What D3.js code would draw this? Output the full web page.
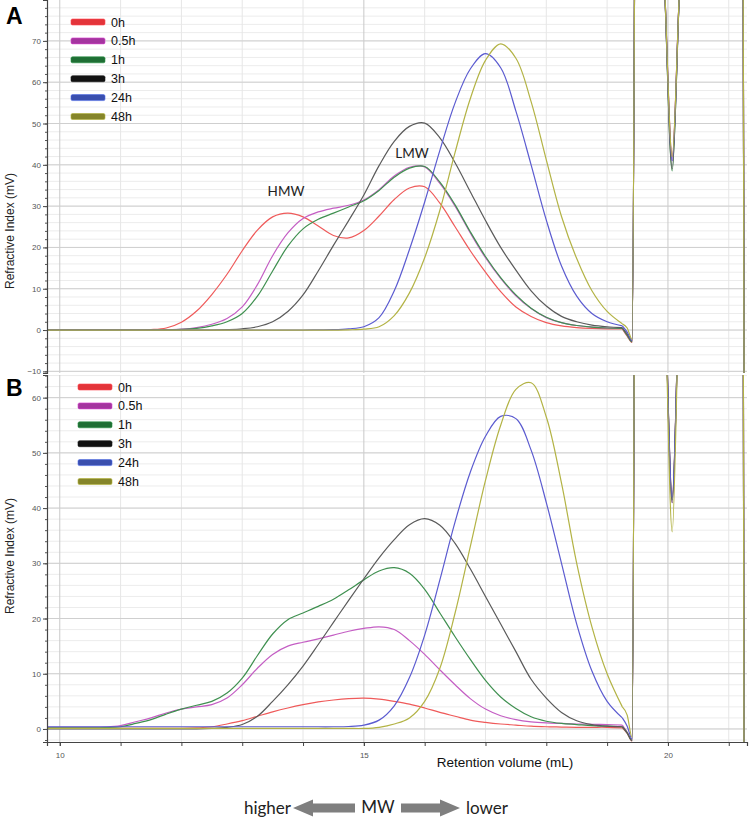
<!DOCTYPE html>
<html>
<head>
<meta charset="utf-8">
<script src="https://cdn.jsdelivr.net/npm/d3@7"></script>
<style>
  body { margin: 0; background: #fff; }
  svg { display: block; font-family: "Liberation Sans", Arial, sans-serif; }
</style>
</head>
<body>
<script>
// retention volume (mL) shared by every trace
var volumes = [9.75, 10, 10.25, 10.5, 10.75, 11, 11.25, 11.5, 11.75, 12, 12.25, 12.5, 12.75, 13, 13.25, 13.5, 13.75, 14, 14.25, 14.5, 14.75, 15, 15.25, 15.5, 15.75, 16, 16.25, 16.5, 16.75, 17, 17.25, 17.5, 17.75, 18, 18.25, 18.5, 18.75, 19, 19.25, 19.33, 19.41, 19.5, 19.94, 20.07, 20.2, 21.22, 21.28];
// solvent peaks start here
var systemPeakStart = 19.25;

var seriesNames = ["0h", "0.5h", "1h", "3h", "24h", "48h"];
var lineColors = ["#ef5a5a", "#c45ec4", "#3f9050", "#5a5a5a", "#5b5bd0", "#b3b345"];
var legendColors = ["#e3343a", "#a4359f", "#1f6e34", "#111111", "#3a4fae", "#85852a"];

// panel A (mV)
var a0h  = [0, 0, 0, 0, 0, 0, 0, 0.1, 0.5, 1.9, 4.6, 8.6, 13.5, 19.2, 24.2, 27.4, 28.3, 27.4, 25.2, 22.9, 22.3, 24.1, 27.6, 31.6, 34.4, 34.7, 30.7, 25, 19.2, 14, 9.3, 5.6, 3.3, 1.8, 1.0, 0.6, 0.4, 0.3, 0.3, -1.5, -3, 200, 85, 42, 85, 200, -200];
var a05h = [0, 0, 0, 0, 0, 0, 0, 0, 0.05, 0.2, 0.6, 1.4, 2.8, 5.6, 11, 18, 23.5, 27, 28.6, 29.5, 30.2, 31.5, 34, 37.3, 39.4, 39.5, 35.5, 30, 23.5, 17.5, 12.5, 8.3, 5.2, 3.0, 1.8, 1.1, 0.7, 0.5, 0.4, -1.2, -2.8, 200, 85, 41, 85, 200, -200];
var a1h  = [0, 0, 0, 0, 0, 0, 0, 0, 0.05, 0.15, 0.4, 1.0, 2.0, 4.0, 8.2, 14.3, 20.3, 24.5, 26.8, 28.3, 29.8, 31.3, 33.8, 37, 39.2, 39.6, 35.8, 30.3, 23.8, 17.8, 12.7, 8.5, 5.3, 3.1, 1.8, 1.1, 0.7, 0.5, 0.4, -1.3, -2.9, 200, 85, 38.5, 85, 200, -200];
var a3h  = [0, 0, 0, 0, 0, 0, 0, 0, 0, 0, 0, 0, 0.1, 0.3, 0.8, 2.0, 4.5, 8.5, 14.3, 20.5, 26.5, 32.7, 39.8, 45.7, 49.3, 50.1, 46.5, 40.5, 33.5, 26.5, 20, 14.5, 9.5, 5.8, 3.3, 2.0, 1.2, 0.8, 0.6, -1.0, -2.7, 200, 85, 39, 85, 200, -200];
var a24h = [0, 0, 0, 0, 0, 0, 0, 0, 0, 0, 0, 0, 0, 0, 0, 0, 0, 0, 0.05, 0.1, 0.3, 0.8, 3.0, 9.5, 19.5, 31, 43.5, 55, 63.2, 66.9, 63.5, 53, 40, 26.6, 15.5, 8.2, 4.0, 2.0, 1.0, -0.5, -2.5, 200, 85, 41, 85, 200, -200];
var a48h = [0, 0, 0, 0, 0, 0, 0, 0, 0, 0, 0, 0, 0, 0, 0, 0, 0, 0, 0, 0, 0.05, 0.2, 0.8, 3.5, 9, 17.5, 29, 43, 56, 65.3, 69.3, 65.8, 55.3, 41.2, 27.5, 17.3, 9.5, 4.5, 1.5, 0.5, -2.2, 200, 85, 42, 85, 200, -200];

// panel B (mV)
var b0h  = [0.1, 0.1, 0.1, 0.1, 0.1, 0.1, 0.1, 0.1, 0.1, 0.1, 0.2, 0.4, 0.9, 1.5, 2.3, 3.1, 3.8, 4.4, 4.9, 5.25, 5.5, 5.6, 5.4, 5.0, 4.5, 3.8, 3.0, 2.3, 1.6, 1.2, 0.9, 0.7, 0.5, 0.4, 0.35, 0.3, 0.3, 0.3, 0.2, -0.8, -2.2, 200, 85, 42, 85, 200, -200];
var b05h = [0.3, 0.3, 0.3, 0.3, 0.35, 0.6, 1.3, 2.0, 2.9, 3.6, 4.0, 4.4, 5.6, 8.0, 11.0, 13.5, 15.0, 15.7, 16.3, 17.0, 17.7, 18.2, 18.5, 18.0, 16.0, 13.5, 10.7, 8.0, 5.5, 3.6, 2.4, 1.7, 1.3, 1.1, 1.0, 0.9, 0.85, 0.8, 0.7, -0.6, -2.0, 200, 85, 41, 85, 200, -200];
var b1h  = [0.2, 0.2, 0.2, 0.2, 0.25, 0.4, 1.0, 1.7, 2.7, 3.6, 4.3, 5.0, 6.5, 9.2, 13.3, 17.2, 19.8, 21, 22.2, 23.5, 25.2, 27.0, 28.6, 29.2, 28.2, 25.3, 21, 16.7, 12.6, 8.8, 5.8, 3.7, 2.2, 1.4, 1.0, 0.8, 0.6, 0.5, 0.4, -0.7, -2.1, 200, 85, 41.5, 85, 200, -200];
var b3h  = [0, 0, 0, 0, 0, 0, 0, 0, 0, 0, 0, 0.1, 0.3, 0.8, 2.3, 5.0, 8.0, 11.4, 15.3, 19.3, 23.3, 27.2, 31.0, 34.3, 37.0, 38.1, 36.9, 33.6, 29, 24, 19, 14, 9.0, 5.6, 3.0, 1.5, 0.8, 0.5, 0.4, -0.7, -2.1, 200, 85, 41, 85, 200, -200];
var b24h = [0.4, 0.4, 0.4, 0.4, 0.4, 0.4, 0.4, 0.4, 0.4, 0.4, 0.4, 0.4, 0.4, 0.4, 0.4, 0.4, 0.4, 0.4, 0.4, 0.4, 0.45, 0.7, 1.6, 4.2, 9.3, 17, 27, 37.5, 46.5, 53, 56.6, 56.2, 50.5, 41, 30, 19, 10.5, 5.0, 2.0, 0.5, -1.8, 200, 85, 42, 85, 200, -200];
var b48h = [0.1, 0.1, 0.1, 0.1, 0.1, 0.1, 0.1, 0.1, 0.1, 0.1, 0.1, 0.1, 0.1, 0.1, 0.1, 0.1, 0.1, 0.1, 0.1, 0.1, 0.1, 0.1, 0.3, 0.9, 2.0, 5.0, 11, 21, 33, 45, 55, 61.5, 62.7, 56.5, 44.5, 30, 18.5, 10, 4.0, 2.5, -1.5, 200, 85, 35.7, 85, 200, -200];

var ticksA = [-10, 0, 10, 20, 30, 40, 50, 60, 70];
var ticksB = [0, 10, 20, 30, 40, 50, 60];
var xTicks = [10, 15, 20];
var xMinorTicks = [10, 11, 12, 13, 14, 15, 16, 17, 18, 19, 20, 21];

var width = 750, height = 821;
var svg = d3.select("body").append("svg")
  .attr("width", width)
  .attr("height", height);

var x = d3.scaleLinear().domain([9.79, 21.3]).range([47, 747]);
var split = volumes.indexOf(systemPeakStart);

function drawPanel(p) {
  var y = d3.scaleLinear().domain([p.yMin, p.yMax]).range([p.bottom, p.top]);
  var g = svg.append("g");

  svg.append("clipPath").attr("id", p.id + "-clip")
    .append("rect")
    .attr("x", x.range()[0]).attr("y", p.top)
    .attr("width", x.range()[1] - x.range()[0])
    .attr("height", p.bottom - p.top);

  // minor grid every 2 mV, major every 10
  var minor = d3.range(Math.ceil(p.yMin / 2) * 2, p.yMax, 2);
  g.selectAll(".hmin").data(minor).enter().append("line")
    .attr("x1", x.range()[0]).attr("x2", x.range()[1])
    .attr("y1", function(d) { return y(d); }).attr("y2", function(d) { return y(d); })
    .attr("stroke", "#ececec").attr("stroke-width", 1);
  g.selectAll(".vmin").data(xMinorTicks).enter().append("line")
    .attr("y1", p.top).attr("y2", p.bottom)
    .attr("x1", function(d) { return x(d); }).attr("x2", function(d) { return x(d); })
    .attr("stroke", function(d) { return xTicks.indexOf(d) >= 0 ? "#c9c9c9" : "#e6e6e6"; })
    .attr("stroke-width", 1);
  g.selectAll(".hmaj").data(p.ticks).enter().append("line")
    .attr("x1", x.range()[0]).attr("x2", x.range()[1])
    .attr("y1", function(d) { return y(d); }).attr("y2", function(d) { return y(d); })
    .attr("stroke", "#cfcfcf").attr("stroke-width", 1);

  // traces: smooth polymer peaks, sharp system peaks
  var smooth = d3.line()
    .x(function(d) { return x(volumes[d[0]]); })
    .y(function(d) { return y(d[1]); })
    .curve(d3.curveCatmullRom.alpha(0.5));
  var sharp = d3.line()
    .x(function(d) { return x(volumes[d[0]]); })
    .y(function(d) { return y(d[1]); })
    .curve(d3.curveMonotoneX);
  var traces = g.append("g").attr("clip-path", "url(#" + p.id + "-clip)");
  p.series.forEach(function(s, k) {
    var pts = s.map(function(v, i) { return [i, v]; });
    [smooth(pts.slice(0, split + 1)), sharp(pts.slice(split))].forEach(function(dPath) {
      traces.append("path")
        .attr("d", dPath)
        .attr("fill", "none")
        .attr("stroke", lineColors[k])
        .attr("stroke-width", 1.2);
    });
  });

  // y axis
  var yAxis = g.append("g").attr("transform", "translate(" + x.range()[0] + ",0)")
    .call(d3.axisLeft(y).tickValues(p.ticks).tickSize(4).tickFormat(d3.format("d")));
  yAxis.selectAll("text").attr("font-size", 8).attr("fill", "#555").attr("x", -6);
  yAxis.selectAll("line").attr("stroke", "#444");
  yAxis.select(".domain").attr("stroke", "#444").attr("stroke-width", 1.2);
  var yMinor = g.append("g").attr("transform", "translate(" + x.range()[0] + ",0)")
    .call(d3.axisLeft(y).tickValues(minor).tickSize(2).tickFormat(""));
  yMinor.select(".domain").remove();
  yMinor.selectAll("line").attr("stroke", "#555");

  g.append("text")
    .attr("transform", "translate(" + 14 + "," + p.labelY + ") rotate(-90)")
    .attr("text-anchor", "middle")
    .attr("font-size", 12)
    .attr("fill", "#222")
    .text("Refractive Index (mV)");

  g.append("text")
    .attr("x", 6).attr("y", p.letterY)
    .attr("font-size", 23).attr("font-weight", "bold")
    .text(p.id);

  // legend
  var rows = g.append("g").selectAll("g").data(seriesNames).enter().append("g")
    .attr("transform", function(d, i) { return "translate(" + p.legX + "," + (p.legY + i * 18.9) + ")"; });
  rows.append("rect")
    .attr("x", 0).attr("y", -3).attr("width", 34).attr("height", 6).attr("rx", 1.5)
    .attr("fill", function(d, i) { return legendColors[i]; })
    .attr("stroke", function(d, i) { return d3.color(legendColors[i]).brighter(0.8); })
    .attr("stroke-width", 0.6);
  rows.append("text")
    .attr("x", 40).attr("y", 0).attr("dy", "0.36em")
    .attr("font-size", 12.5).attr("fill", "#111")
    .text(function(d) { return d; });

  return y;
}

drawPanel({
  id: "A", top: 0, bottom: 373, yMin: -10.4, yMax: 79.9, ticks: ticksA,
  series: [a0h, a05h, a1h, a3h, a24h, a48h],
  labelY: 231, letterY: 24, legX: 71, legY: 22
});
drawPanel({
  id: "B", top: 375, bottom: 742, yMin: -2.36, yMax: 64.1, ticks: ticksB,
  series: [b0h, b05h, b1h, b3h, b24h, b48h],
  labelY: 556, letterY: 396, legX: 78, legY: 387
});

// peak annotations
svg.append("text").attr("x", 286).attr("y", 196).attr("text-anchor", "middle")
  .attr("font-family", "Lato, 'Open Sans', sans-serif").attr("font-size", 13.5).attr("fill", "#222").text("HMW");
svg.append("text").attr("x", 412).attr("y", 158).attr("text-anchor", "middle")
  .attr("font-family", "Lato, 'Open Sans', sans-serif").attr("font-size", 13.5).attr("fill", "#222").text("LMW");

// x axis under panel B
var xAxis = svg.append("g").attr("transform", "translate(0,742)")
  .call(d3.axisBottom(x).tickValues(xTicks).tickSize(4).tickFormat(d3.format("d")));
xAxis.selectAll("text").attr("font-size", 8).attr("fill", "#555").attr("y", 10);
xAxis.selectAll("line").attr("stroke", "#444");
xAxis.select(".domain").attr("stroke", "#444").attr("stroke-width", 1.2);
var xMinor = svg.append("g").attr("transform", "translate(0,742)")
  .call(d3.axisBottom(x).tickValues(xMinorTicks).tickSize(4).tickFormat(""));
xMinor.select(".domain").remove();
xMinor.selectAll("line").attr("stroke", "#444");

svg.append("text").attr("x", 505).attr("y", 767).attr("text-anchor", "middle")
  .attr("font-family", "'Liberation Sans Narrow', 'Liberation Sans', Arial, sans-serif")
  .attr("font-size", 13.5).attr("fill", "#111")
  .text("Retention volume (mL)");

// MW direction arrows
var arrowY = 808;
function blockArrow(x0, x1, dir) {
  var head = 20, bh = 4.5, hh = 8.5;
  var tip = dir < 0 ? x0 : x1, base = dir < 0 ? x0 + head : x1 - head, tail = dir < 0 ? x1 : x0;
  var pts = [[tail, arrowY - bh], [base, arrowY - bh], [base, arrowY - hh], [tip, arrowY],
             [base, arrowY + hh], [base, arrowY + bh], [tail, arrowY + bh]];
  svg.append("path").attr("d", d3.line()(pts) + "Z").attr("fill", "#7f7f7f");
}
blockArrow(293, 355, -1);
blockArrow(401, 460, 1);
var mwFont = "Lato, 'Open Sans', sans-serif";
svg.append("text").attr("x", 291).attr("y", 814).attr("text-anchor", "end")
  .attr("font-family", mwFont).attr("font-size", 17).attr("fill", "#222").text("higher");
svg.append("text").attr("x", 378).attr("y", 813).attr("text-anchor", "middle")
  .attr("font-family", mwFont).attr("font-size", 17).attr("fill", "#222").text("MW");
svg.append("text").attr("x", 466).attr("y", 814).attr("text-anchor", "start")
  .attr("font-family", mwFont).attr("font-size", 17).attr("fill", "#222").text("lower");
</script>
</body>
</html>
